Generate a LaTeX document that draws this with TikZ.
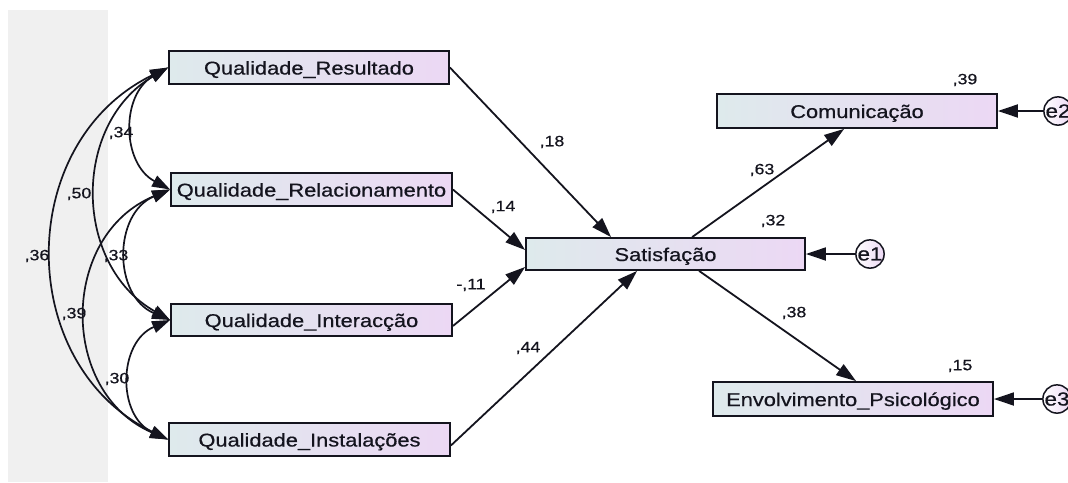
\documentclass[tikz,border=0pt]{standalone}
\usepackage{fontspec}
\setmainfont{Liberation Sans}[FakeStretch=1.18,FakeBold=0.6]
\usetikzlibrary{arrows.meta,calc}

\definecolor{boxL}{RGB}{222,234,236}
\definecolor{boxR}{RGB}{236,216,244}
\definecolor{band}{RGB}{240,240,240}
\definecolor{ink}{RGB}{20,20,30}

\begin{document}
\begin{tikzpicture}[x=1pt,y=1pt,
  var/.style={draw=ink, line width=1.8pt, left color=boxL, right color=boxR,
    minimum height=33pt, inner sep=0pt, text=ink,
    font=\fontsize{18.5}{20}\selectfont, text height=15pt, text depth=1pt},
  err/.style={circle, draw=ink, line width=1.5pt, minimum size=24pt, inner sep=0pt,
    left color=white, right color=boxR, text=ink, font=\fontsize{19}{20}\selectfont},
  coef/.style={font=\fontsize{15}{16}\selectfont, inner sep=0pt, text=ink},
  regarrow/.style={-{Triangle[length=20pt,width=13pt]}, line width=1.8pt, draw=ink},
  covarrow/.style={{Triangle[length=18pt,width=12pt]}-{Triangle[length=18pt,width=12pt]},
    line width=1.7pt, draw=ink}
]
\useasboundingbox (0,0) rectangle (1068,-482);
\fill[white] (0,0) rectangle (1068,-482);
\fill[band] (8,-10) rectangle (108,-482);

% observed variables
\node[var, minimum width=280pt] (QR)    at (309,-67.5)  {Qualidade\_Resultado};
\node[var, minimum width=281pt] (QRel)  at (311.5,-189.5) {Qualidade\_Relacionamento};
\node[var, minimum width=281pt, minimum height=32pt] (QI) at (311.5,-320) {Qualidade\_Interacção};
\node[var, minimum width=281pt] (QInst) at (309.5,-439.5) {Qualidade\_Instalações};
\node[var, minimum width=279pt, minimum height=32pt] (Sat) at (665.5,-254) {Satisfação};
\node[var, minimum width=280pt, minimum height=34pt] (Com) at (857,-111) {Comunicação};
\node[var, minimum width=280pt, minimum height=34pt] (Env) at (853,-399) {Envolvimento\_Psicológico};

% error terms
\node[err] (e1) at (870,-254) {e1};
\node[err] (e2) at (1058,-111) {e2};
\node[err] (e3) at (1057,-399) {e3};

% covariances between the exogenous variables
\draw[covarrow] (QR.west)   to[bend right=61, looseness=1.15] (QRel.west);
\draw[covarrow] (QR.west)   to[bend right=60, looseness=1.13] (QI.west);
\draw[covarrow] (QR.west)   to[bend right=64, looseness=1.18] (QInst.west);
\draw[covarrow] (QRel.west) to[bend right=67, looseness=1.22] (QI.west);
\draw[covarrow] (QRel.west) to[bend right=67, looseness=1.22] (QInst.west);
\draw[covarrow] (QI.west)   to[bend right=66, looseness=1.21] (QInst.west);

% regression paths
\draw[regarrow] (QR.east) -- ($(Sat.north west)+(86,0)$);
\draw[regarrow] (QRel.east) -- ($(Sat.west)+(0,4)$);
\draw[regarrow] ($(QI.east)+(0,-6)$) -- ($(Sat.west)+(0,-13)$);
\draw[regarrow] ($(QInst.east)+(0,-6)$) -- ($(Sat.south west)+(112,0)$);
\draw[regarrow] ($(Sat.north west)+(167,0)$) -- ($(Com.south west)+(128,0)$);
\draw[regarrow] ($(Sat.south west)+(174,0)$) -- ($(Env.north west)+(144,0)$);
\draw[regarrow] (e1) -- (Sat.east);
\draw[regarrow] (e2) -- (Com.east);
\draw[regarrow] (e3) -- (Env.east);

% coefficients
\node[coef] (c34) at (121,-133) {,34};
\node[coef] (c50) at (79,-194)  {,50};
\node[coef] (c36) at (37,-256)  {,36};
\node[coef] (c33) at (116,-256) {,33};
\node[coef] (c39a) at (74,-314) {,39};
\node[coef] (c30) at (117,-379) {,30};
\node[coef] (c18) at (552,-142) {,18};
\node[coef] (c14) at (503,-207) {,14};
\node[coef] (c11) at (471,-285) {-,11};
\node[coef] (c44) at (528,-348) {,44};
\node[coef] (c63) at (762,-170) {,63};
\node[coef] (c38) at (794,-313) {,38};
\node[coef] (c32) at (773,-221) {,32};
\node[coef] (c39b) at (965,-80) {,39};
\node[coef] (c15) at (960,-366) {,15};
\end{tikzpicture}
\end{document}
